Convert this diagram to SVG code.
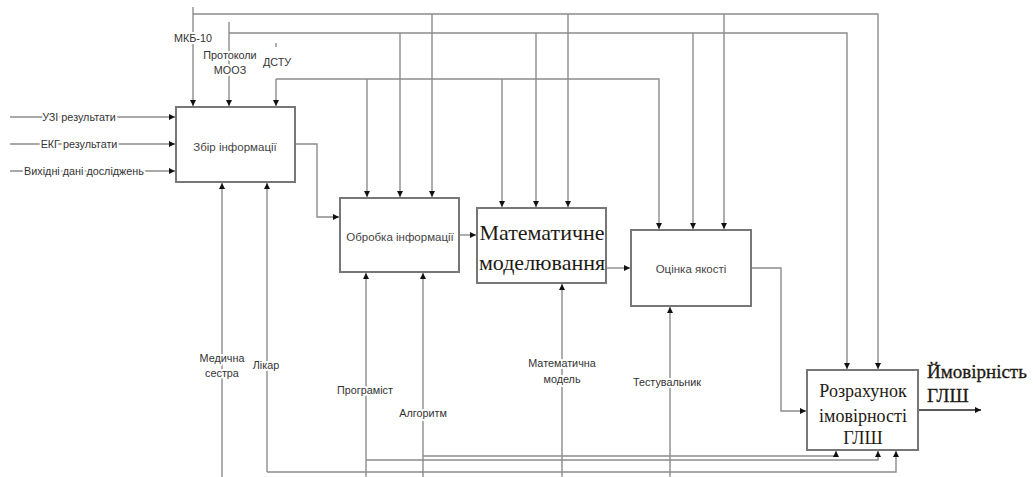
<svg xmlns="http://www.w3.org/2000/svg" width="1033" height="477" viewBox="0 0 1033 477">
<style>
.box{fill:#fff;stroke:#777;stroke-width:2}
.ln{fill:none;stroke:#8c8c8c;stroke-width:1.4}
.lbl{font-family:"Liberation Sans",Arial,sans-serif;font-size:10.8px;fill:#333;text-anchor:middle;paint-order:stroke;stroke:#fff;stroke-width:4px;stroke-linejoin:round}
.bt{font-family:"Liberation Sans",Arial,sans-serif;font-size:11.5px;fill:#444;text-anchor:middle}
.tt{font-family:"Liberation Serif","Times New Roman",serif;fill:#1e1a14;text-anchor:middle}
.ot{font-family:"Liberation Serif","Times New Roman",serif;fill:#1e1a14;font-size:19px;text-anchor:start;stroke:#1e1a14;stroke-width:0.3px}
</style>
<defs>
<marker id="ah" markerUnits="userSpaceOnUse" markerWidth="7" markerHeight="7" refX="6" refY="3" orient="auto">
<path d="M0,0 L6,3 L0,6 z" fill="#111"/>
</marker>
</defs>
<rect width="1033" height="477" fill="#fff"/>
<g id="connectors">
<path class="ln" d="M10,117 H175" marker-end="url(#ah)"/>
<path class="ln" d="M10,144 H175" marker-end="url(#ah)"/>
<path class="ln" d="M10,171 H175" marker-end="url(#ah)"/>
<path class="ln" d="M193,7 V106" marker-end="url(#ah)"/>
<path class="ln" d="M193,14 H878 V369" marker-end="url(#ah)"/>
<path class="ln" d="M432,14 V197" marker-end="url(#ah)"/>
<path class="ln" d="M568,14 V207" marker-end="url(#ah)"/>
<path class="ln" d="M724,14 V229" marker-end="url(#ah)"/>
<path class="ln" d="M229,22 V106" marker-end="url(#ah)"/>
<path class="ln" d="M229,33 H847 V369" marker-end="url(#ah)"/>
<path class="ln" d="M400,33 V197" marker-end="url(#ah)"/>
<path class="ln" d="M536,33 V207" marker-end="url(#ah)"/>
<path class="ln" d="M693,33 V229" marker-end="url(#ah)"/>
<path class="ln" d="M276,43 V47"/>
<path class="ln" d="M276,79 V106" marker-end="url(#ah)"/>
<path class="ln" d="M276,79 H659 V229" marker-end="url(#ah)"/>
<path class="ln" d="M367,79 V197" marker-end="url(#ah)"/>
<path class="ln" d="M502,79 V207" marker-end="url(#ah)"/>
<path class="ln" d="M295,144 H317 V217 H339" marker-end="url(#ah)"/>
<path class="ln" d="M459,235 H476" marker-end="url(#ah)"/>
<path class="ln" d="M606,268 H630" marker-end="url(#ah)"/>
<path class="ln" d="M751,268 H781 V411 H806" marker-end="url(#ah)"/>
<path d="M918,410 H981" marker-end="url(#ah)" stroke="#222" stroke-width="1.6" fill="none"/>
<path class="ln" d="M222,477 V183" marker-end="url(#ah)"/>
<path class="ln" d="M267,472 V183" marker-end="url(#ah)"/>
<path class="ln" d="M267,472 H896 V451" marker-end="url(#ah)"/>
<path class="ln" d="M366,477 V273" marker-end="url(#ah)"/>
<path class="ln" d="M366,460 H878 V451" marker-end="url(#ah)"/>
<path class="ln" d="M423,477 V273" marker-end="url(#ah)"/>
<path class="ln" d="M423,456 H836 V451" marker-end="url(#ah)"/>
<path class="ln" d="M562,477 V284" marker-end="url(#ah)"/>
<path class="ln" d="M670,477 V307" marker-end="url(#ah)"/>
<text class="lbl" x="79" y="121">УЗІ результати</text>
<text class="lbl" x="79" y="148">ЕКГ результати</text>
<text class="lbl" x="84" y="175">Вихідні дані досліджень</text>
<text class="lbl" x="193" y="42">МКБ-10</text>
<text class="lbl" x="230" y="59">Протоколи</text>
<text class="lbl" x="230" y="74">МООЗ</text>
<text class="lbl" x="277" y="66">ДСТУ</text>
<text class="lbl" x="222" y="362">Медична</text>
<text class="lbl" x="222" y="377">сестра</text>
<text class="lbl" x="266" y="369">Лікар</text>
<text class="lbl" x="365" y="394">Програміст</text>
<text class="lbl" x="423" y="417">Алгоритм</text>
<text class="lbl" x="562" y="367">Математична</text>
<text class="lbl" x="562" y="383">модель</text>
<text class="lbl" x="667" y="386">Тестувальник</text>
</g>
<g id="node-zbir">
<rect class="box" x="176" y="107" width="119" height="75"/>
<text class="bt" x="235" y="151">Збір інформації</text>
</g>
<g id="node-obrobka">
<rect class="box" x="340" y="198" width="119" height="74"/>
<text class="bt" x="400" y="241">Обробка інформації</text>
</g>
<g id="node-modeluvannia">
<rect class="box" x="477" y="208" width="129" height="75"/>
<text class="tt" x="542" y="240" font-size="22">Математичне</text>
<text class="tt" x="542" y="270" font-size="22">моделювання</text>
</g>
<g id="node-otsinka">
<rect class="box" x="631" y="230" width="120" height="76"/>
<text class="bt" x="691" y="273">Оцінка якості</text>
</g>
<g id="node-rozrakhunok">
<rect class="box" x="807" y="370" width="111" height="80"/>
<text class="tt" x="863" y="397" font-size="18">Розрахунок</text>
<text class="tt" x="863" y="422" font-size="18">імовірності</text>
<text class="tt" x="863" y="444" font-size="18">ГЛШ</text>
</g>
<g id="output-label">
<text class="ot" x="927" y="378">Ймовірність</text>
<text class="ot" x="927" y="402">ГЛШ</text>
</g>
</svg>
